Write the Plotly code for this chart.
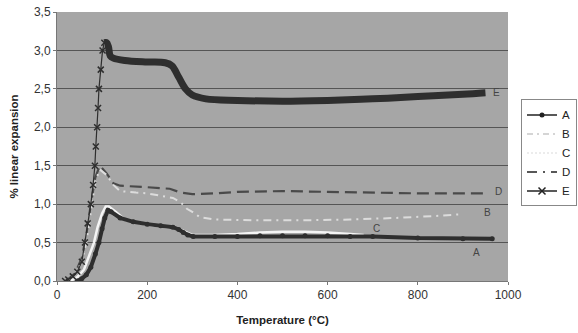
import plotly.graph_objects as go

# ---------------- data ----------------
e_rise_t = [18, 25, 35, 45, 55, 62, 68, 75, 80, 84, 86, 89, 91, 93, 97, 101, 105]
e_rise_v = [0.0, 0.02, 0.06, 0.12, 0.25, 0.5, 0.75, 1.0, 1.25, 1.5, 1.75, 2.0, 2.25, 2.5, 2.75, 3.0, 3.1]
e_plat_t = [105, 110, 114, 118, 125, 150, 200, 240, 255, 270, 285, 300, 330, 400, 500, 600, 700, 800, 900, 950]
e_plat_v = [3.1, 3.1, 3.05, 2.93, 2.9, 2.87, 2.85, 2.84, 2.8, 2.65, 2.5, 2.42, 2.37, 2.35, 2.34, 2.35, 2.37, 2.4, 2.43, 2.45]

a_t = [45, 55, 65, 75, 85, 93, 100, 106, 113, 120, 140, 169, 200, 230, 257, 270, 280, 290, 302,
       350, 400, 450, 500, 550, 600, 650, 700, 800, 900, 965]
a_v = [0.0, 0.03, 0.08, 0.18, 0.35, 0.5, 0.68, 0.82, 0.92, 0.9, 0.82, 0.77, 0.74, 0.72, 0.7, 0.67, 0.63, 0.6, 0.58,
       0.58, 0.58, 0.59, 0.59, 0.59, 0.59, 0.58, 0.58, 0.56, 0.55, 0.55]

c_t = [30, 45, 60, 70, 82, 90, 100, 108, 115, 130, 150, 200, 250, 270, 285, 300, 350, 400, 450, 500, 550, 600, 650, 680]
c_v = [0.0, 0.05, 0.15, 0.3, 0.5, 0.7, 0.88, 0.97, 0.97, 0.9, 0.8, 0.73, 0.7, 0.68, 0.64, 0.6, 0.6, 0.61, 0.63, 0.64, 0.64, 0.63, 0.61, 0.6]

b_t = [20, 40, 55, 65, 75, 85, 95, 110, 125, 140, 175, 200, 257, 275, 288, 300, 317, 350, 450, 550, 650, 750, 850, 900]
b_v = [0.0, 0.08, 0.25, 0.5, 0.9, 1.3, 1.45, 1.38, 1.25, 1.17, 1.15, 1.14, 1.08, 1.02, 0.94, 0.9, 0.83, 0.8, 0.79, 0.79, 0.8, 0.82, 0.85, 0.87]

d_t = [20, 40, 55, 65, 75, 85, 95, 110, 125, 140, 200, 250, 275, 300, 350, 400, 500, 600, 700, 800, 900, 950]
d_v = [0.0, 0.1, 0.3, 0.6, 1.0, 1.35, 1.5, 1.4, 1.27, 1.24, 1.22, 1.2, 1.15, 1.13, 1.14, 1.16, 1.17, 1.16, 1.15, 1.14, 1.14, 1.14]

series_names = ["A", "B", "C", "D", "E"]
end_labels = {"E": (975, 2.45), "D": (978, 1.16), "B": (955, 0.89), "C": (708, 0.68), "A": (930, 0.37)}

x_ticks = [0, 200, 400, 600, 800, 1000]
y_ticks = [0.0, 0.5, 1.0, 1.5, 2.0, 2.5, 3.0, 3.5]
y_tick_text = ["0,0", "0,5", "1,0", "1,5", "2,0", "2,5", "3,0", "3,5"]

# ---------------- figure ----------------
fig = go.Figure()

dark = "#2e2e2e"
fig.add_trace(go.Scatter(x=d_t, y=d_v, mode="lines", line=dict(color="#4a4a4a", width=2.2, dash="12px,6px"),
                         showlegend=False, hoverinfo="skip"))
fig.add_trace(go.Scatter(x=b_t, y=b_v, mode="lines", line=dict(color="#dcdcdc", width=2, dash="8px,5px,2px,5px"),
                         showlegend=False, hoverinfo="skip"))
fig.add_trace(go.Scatter(x=c_t, y=c_v, mode="lines", line=dict(color="#f4f4f4", width=2.5),
                         showlegend=False, hoverinfo="skip"))
fig.add_trace(go.Scatter(x=a_t, y=a_v, mode="lines+markers", line=dict(color=dark, width=4),
                         marker=dict(symbol="circle", size=5, color=dark),
                         showlegend=False, hoverinfo="skip"))
fig.add_trace(go.Scatter(x=e_rise_t, y=e_rise_v, mode="lines+markers", line=dict(color=dark, width=1.2),
                         marker=dict(symbol="x-thin-open", size=6, line=dict(color=dark, width=1.5)),
                         showlegend=False, hoverinfo="skip"))
fig.add_trace(go.Scatter(x=e_plat_t, y=e_plat_v, mode="lines", line=dict(color=dark, width=7, shape="spline"),
                         showlegend=False, hoverinfo="skip"))

# legend-only traces
fig.add_trace(go.Scatter(x=[None], y=[None], name="A", mode="lines+markers",
                         line=dict(color="#222", width=1.5), marker=dict(symbol="circle", size=5, color="#222")))
fig.add_trace(go.Scatter(x=[None], y=[None], name="B", mode="lines",
                         line=dict(color="#c8c8c8", width=1.5, dash="6px,4px,2px,4px")))
fig.add_trace(go.Scatter(x=[None], y=[None], name="C", mode="lines",
                         line=dict(color="#e6e6e6", width=1.5, dash="2px,2px")))
fig.add_trace(go.Scatter(x=[None], y=[None], name="D", mode="lines",
                         line=dict(color="#222", width=1.5, dash="10px,6px,2px,6px")))
fig.add_trace(go.Scatter(x=[None], y=[None], name="E", mode="lines+markers",
                         line=dict(color="#222", width=1.5),
                         marker=dict(symbol="x-thin-open", size=7, line=dict(color="#222", width=1.5))))

for name in series_names:
    lx, ly = end_labels[name]
    fig.add_annotation(x=lx, y=ly, text=name, showarrow=False,
                       font=dict(family="Arial, Liberation Sans", size=10, color="#444"))

fig.update_layout(
    width=578, height=333,
    margin=dict(l=57, r=1, t=12, b=52),
    paper_bgcolor="white",
    plot_bgcolor="#a6a6a6",
    font=dict(family="Arial, Liberation Sans", size=12, color="#333"),
    legend=dict(x=1.0, y=0.675, xanchor="right", yanchor="top",
                bgcolor="white", bordercolor="#888", borderwidth=1,
                font=dict(size=11.5, color="#222"), itemwidth=30,
                tracegroupgap=0),
    xaxis=dict(range=[0, 1000], tickvals=x_ticks, showgrid=False, zeroline=False, automargin=False,
               domain=[0, 451 / 520],
               showline=True, linecolor="#777", ticks="outside", ticklen=3, tickcolor="#777",
               title=dict(text="<b>Temperature (°C)</b>", font=dict(size=11.5, color="#222"), standoff=14)),
    yaxis=dict(range=[0, 3.5], tickvals=y_ticks, ticktext=y_tick_text, showgrid=True, automargin=False,
               gridcolor="#555", gridwidth=1, zeroline=False,
               showline=True, linecolor="#777", ticks="outside", ticklen=3, tickcolor="#777",
               title=dict(text="<b>% linear expansion</b>", font=dict(size=11.5, color="#222"), standoff=12)),
)

fig.write_html("out.html")
